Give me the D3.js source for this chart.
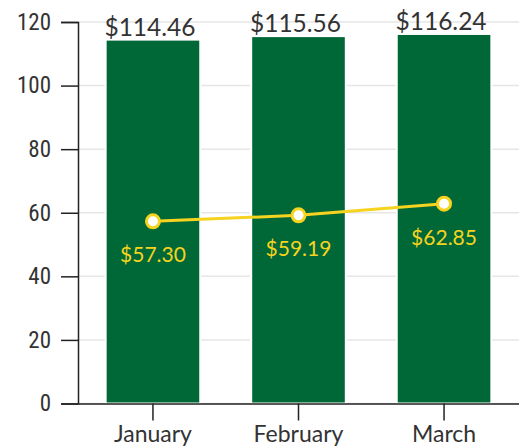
<!DOCTYPE html>
<html>
<head>
<meta charset="utf-8">
<script src="https://cdn.jsdelivr.net/npm/d3@7"></script>
<style>
  body { margin: 0; background: #fff; }
  svg { display: block; }
</style>
</head>
<body>
<svg id="chart" width="519" height="446"></svg>
<script>
const months = ["January", "February", "March"];
const barValues = [114.46, 115.56, 116.24];
const lineValues = [57.30, 59.19, 62.85];
const yTicks = [0, 20, 40, 60, 80, 100, 120];

const svg = d3.select("#chart");
const margin = { top: 22, right: 0, bottom: 42.5, left: 78 };
const width = +svg.attr("width") - margin.left - margin.right;
const height = +svg.attr("height") - margin.top - margin.bottom;

const x = d3.scaleBand()
    .domain(months)
    .range([0, width])
    .paddingInner(0.35)
    .paddingOuter(0.19);

const y = d3.scaleLinear()
    .domain([0, 120])
    .range([height, 0]);

const g = svg.append("g")
    .attr("transform", `translate(${margin.left},${margin.top})`);

// grid
g.append("g")
    .selectAll("line")
    .data(yTicks)
    .join("line")
    .attr("x1", 0)
    .attr("x2", width)
    .attr("y1", d => y(d))
    .attr("y2", d => y(d))
    .attr("stroke", "#e6e6e6")
    .attr("stroke-width", 1.5);

const data = months.map((m, i) => ({ month: m, bar: barValues[i], line: lineValues[i] }));

g.selectAll("rect.bar")
    .data(data)
    .join("rect")
    .attr("class", "bar")
    .attr("x", d => x(d.month))
    .attr("y", d => y(d.bar))
    .attr("width", x.bandwidth())
    .attr("height", d => height - y(d.bar))
    .attr("fill", "#006837")
    .attr("stroke", "#fff")
    .attr("stroke-width", 2);

g.selectAll("text.barlabel")
    .data(data)
    .join("text")
    .attr("class", "barlabel")
    .attr("x", d => x(d.month) + x.bandwidth() / 2 - 3)
    .attr("y", d => y(d.bar) - 4)
    .attr("text-anchor", "middle")
    .style("font-family", "Lato, sans-serif")
    .style("font-size", "24.5px")
    .style("fill", "#333")
    .text(d => "$" + d.bar.toFixed(2));

// axes
const yAxis = g.append("g")
    .call(d3.axisLeft(y).tickValues(yTicks).tickSize(17).tickPadding(10));
yAxis.selectAll("text")
    .style("font-family", "'Liberation Sans Narrow', 'Roboto Condensed', Roboto, sans-serif")
    .style("font-size", "23px")
    .style("fill", "#333");
yAxis.selectAll("path, line").attr("stroke", "#222").attr("stroke-width", 1.5);

const xAxis = g.append("g")
    .attr("transform", `translate(0,${height})`)
    .call(d3.axisBottom(x).tickSize(17).tickSizeOuter(0).tickPadding(5));
xAxis.selectAll("text")
    .style("font-family", "Lato, sans-serif")
    .style("font-size", "23px")
    .style("fill", "#333");
xAxis.selectAll("path, line").attr("stroke", "#222").attr("stroke-width", 1.5);

// line series
const cx = d => x(d.month) + x.bandwidth() / 2;
const line = d3.line()
    .x(cx)
    .y(d => y(d.line));

g.append("path")
    .datum(data)
    .attr("d", line)
    .attr("fill", "none")
    .attr("stroke", "#f5d31f")
    .attr("stroke-width", 3);

g.selectAll("circle.pt")
    .data(data)
    .join("circle")
    .attr("class", "pt")
    .attr("cx", cx)
    .attr("cy", d => y(d.line))
    .attr("r", 6.5)
    .attr("fill", "#fff")
    .attr("stroke", "#f5d31f")
    .attr("stroke-width", 3);

g.selectAll("text.linelabel")
    .data(data)
    .join("text")
    .attr("class", "linelabel")
    .attr("x", d => cx(d))
    .attr("y", d => y(d.line) + 41)
    .attr("text-anchor", "middle")
    .style("font-family", "Lato, sans-serif")
    .style("font-size", "21px")
    .style("fill", "#f5d31f")
    .text(d => "$" + d.line.toFixed(2));
</script>
</body>
</html>
